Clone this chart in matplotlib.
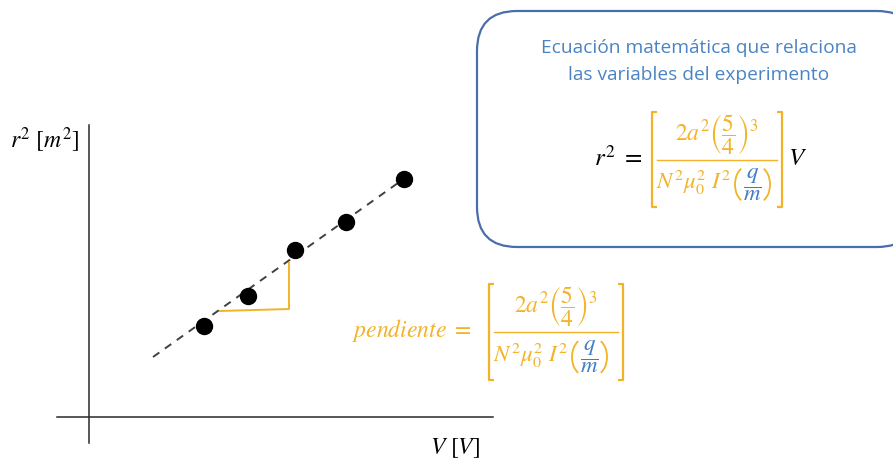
import matplotlib
matplotlib.use("Agg")
import matplotlib.pyplot as plt
import matplotlib.patches as patches

plt.rcParams['mathtext.fontset'] = 'stix'

# Data (diagram units = pixels, y grows downward)
points_x = [204, 248, 295, 346, 404]
points_y = [326, 296, 250, 222, 179]
fit_x = [153, 405]
fit_y = [357, 178]
slope_x = [220, 289, 289]
slope_y = [311, 309, 263]

title_lines = ['Ecuación matemática que relaciona', 'las variables del experimento']

YELLOW = '#f2b328'
BLUE_TXT = '#4a84c4'
BLUE_Q = '#3f7cc4'
BOX = '#4a6ea9'


def draw_bracket_formula(ax, x0, x1, ytop, ybot):
    '''
    Bracketed fraction 2a^2(5/4)^3 / (N^2 mu0^2 I^2 (q/m))
    '''
    ymid = (ytop + ybot) / 2.0
    tick = 5
    # left and right square brackets
    ax.plot([x0 + tick, x0, x0, x0 + tick], [ytop, ytop, ybot, ybot], color=YELLOW, lw=1.6, solid_capstyle='butt')
    ax.plot([x1 - tick, x1, x1, x1 - tick], [ytop, ytop, ybot, ybot], color=YELLOW, lw=1.6, solid_capstyle='butt')
    # fraction bar
    ax.plot([x0 + 5, x1 - 5], [ymid, ymid], color=YELLOW, lw=1.0)
    xc = (x0 + x1) / 2.0
    ax.text(xc, ymid - 3, r'$2a^2\left(\dfrac{5}{4}\right)^3$', color=YELLOW, fontsize=17,
            ha='center', va='bottom')
    # denominator
    yd = ymid + 25
    ax.text(x0 + 4, yd - 2, r'$N^2\mu_0^2\ I^2$', color=YELLOW, fontsize=16.5, ha='left', va='center')
    px = x0 + 81
    # parentheses around q/m drawn as arcs
    ax.add_patch(patches.Arc((px + 14, yd), 24, 36, theta1=110, theta2=250, color=YELLOW, lw=1.3))
    ax.add_patch(patches.Arc((px + 25, yd), 24, 36, theta1=-70, theta2=70, color=YELLOW, lw=1.3))
    ax.text(px + 19.5, yd, r'$\dfrac{q}{m}$', color=BLUE_Q, fontsize=16.5, ha='center', va='center')


fig = plt.figure(figsize=(8.93, 4.59), dpi=100)
ax = fig.add_axes([0, 0, 1, 1])
ax.set_xlim(0, 893)
ax.set_ylim(459, 0)
ax.axis('off')

# Axes lines
ax.plot([89, 89], [125, 443], color='#2a2a2a', lw=1.1)
ax.plot([57, 493], [417, 417], color='#2a2a2a', lw=1.1)
ax.text(10, 140, r'$r^2\ [m^2]$', fontsize=17, ha='left', va='center')
ax.text(430, 448, r'$V\ [V]$', fontsize=17, ha='left', va='center')

# Fit line, slope triangle and points
ax.plot(fit_x, fit_y, color='#404040', lw=1.4, dashes=(4, 3.5))
ax.plot(slope_x, slope_y, color=YELLOW, lw=1.4)
ax.plot(points_x, points_y, 'o', color='black', markersize=11.5)

# Rounded box
box = patches.FancyBboxPatch((477, 11), 440, 236, boxstyle='round,pad=0,rounding_size=40',
                             facecolor='white', edgecolor=BOX, lw=1.6)
ax.add_patch(box)
ax.text(699, 48, title_lines[0], color=BLUE_TXT, fontsize=13.8, family='Open Sans', ha='center', va='center')
ax.text(699, 75, title_lines[1], color=BLUE_TXT, fontsize=13.8, family='Open Sans', ha='center', va='center')

# Equation in the box
ax.text(643, 158, r'$r^2\ =$', fontsize=18, ha='right', va='center')
draw_bracket_formula(ax, 652, 782, 112, 207)
ax.text(788, 158, r'$V$', fontsize=18, ha='left', va='center')

# Slope formula
ax.text(472, 330, r'$pendiente\ =$', color=YELLOW, fontsize=17, ha='right', va='center')
draw_bracket_formula(ax, 489, 623, 284, 380)

fig.savefig('out.png', dpi=100)
